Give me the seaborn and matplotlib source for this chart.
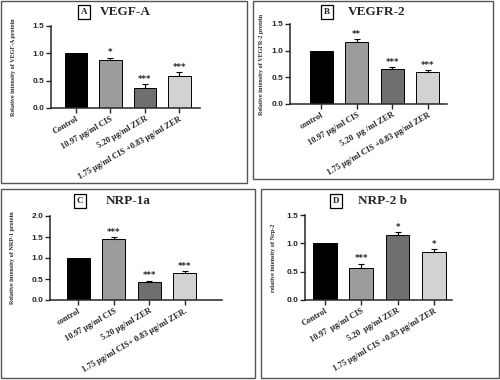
import numpy as np
import pandas as pd
import matplotlib
matplotlib.use('Agg')
import matplotlib.pyplot as plt
import seaborn as sns
from matplotlib.patches import Rectangle

# values
letters = ['A', 'B', 'C', 'D']
titles = ['VEGF-A', 'VEGFR-2', 'NRP-1a', 'NRP-2 b']
ylabels = ['Relative intensity of VEGF-A protein',
           'Relative intensity of VEGFR-2 protein',
           'Relative intensity of NRP-1 protein',
           'relative intensity of Nrp-2']
groups_a = ['Control', '10.97 µg/ml CIS', '5.20 µg/ml ZER', '1.75 µg/ml CIS +0.83 µg/ml ZER']
groups_b = ['control', '10.97 µg/ml CIS', '5.20  µg /ml ZER', '1.75 µg/ml CIS +0.83 µg/ml ZER']
groups_c = ['control', '10.97 µg/ml CIS', '5.20 µg/ml ZER', '1.75 µg/ml CIS+ 0.83 µg/ml ZER.']
groups_d = ['Control', '10.97  µg/ml CIS', '5.20  µg/ml ZER', '1.75 µg/ml CIS +0.83 µg/ml ZER']
vals_a = [1.0, 0.87, 0.37, 0.58]
vals_b = [1.0, 1.16, 0.65, 0.60]
vals_c = [1.0, 1.45, 0.43, 0.64]
vals_d = [1.0, 0.57, 1.14, 0.85]
err_a = [0.0, 0.05, 0.06, 0.08]
err_b = [0.0, 0.05, 0.04, 0.03]
err_c = [0.0, 0.04, 0.03, 0.05]
err_d = [0.0, 0.07, 0.06, 0.05]
stars_a = ['', '*', '***', '***']
stars_b = ['', '**', '***', '***']
stars_c = ['', '***', '***', '***']
stars_d = ['', '***', '*', '*']
ymax = [1.5, 1.5, 2.0, 1.5]
yticks = [[0, 0.5, 1.0, 1.5], [0, 0.5, 1.0, 1.5], [0, 0.5, 1.0, 1.5, 2.0], [0, 0.5, 1.0, 1.5]]

groups = [groups_a, groups_b, groups_c, groups_d]
vals = [vals_a, vals_b, vals_c, vals_d]
errs = [err_a, err_b, err_c, err_d]
stars = [stars_a, stars_b, stars_c, stars_d]

colors = ['#000000', '#9c9c9c', '#6f6f6f', '#d2d2d2']

sns.set_theme(style='ticks')
plt.rcParams['font.family'] = ['Liberation Serif', 'DejaVu Serif']

W, H = 500, 380
fig = plt.figure(figsize=(5, 3.8), dpi=100)

# pixel boxes: (left, top, right, bottom) for axes and panel frames
axes_px = [(51, 26, 200, 108), (290, 24, 447, 104), (50, 216, 222, 300), (305, 215, 452, 300)]
frames_px = [(1, 1, 247, 183), (253, 1, 493, 179), (1, 189, 255, 378), (261, 189, 499, 378)]
ylab_x = [16, 264, 15, 276]
box_px = [(84, 12), (327, 12), (80, 201), (336, 201)]
title_x = [100, 348, 106, 358]
xlims = [(-0.72, 3.6), (-0.88, 3.55), (-0.8, 4.05), (-0.55, 3.5)]

for fl, ft, fr, fb in frames_px:
    fig.patches.append(Rectangle((fl / W, 1 - fb / H), (fr - fl) / W, (fb - ft) / H,
                                 transform=fig.transFigure, fill=False,
                                 edgecolor='#555555', linewidth=1.0))

for i in range(4):
    l, t, r, b = axes_px[i]
    ax = fig.add_axes([l / W, 1 - b / H, (r - l) / W, (b - t) / H])
    df = pd.DataFrame({'group': groups[i], 'value': vals[i]})
    sns.barplot(data=df, x='group', y='value', hue='group', palette=colors,
                legend=False, edgecolor='black', linewidth=0.7, width=0.65, ax=ax)
    x = np.arange(1, 4)
    e = np.array(errs[i][1:])
    ax.errorbar(x, vals[i][1:], yerr=[np.zeros(3), e], fmt='none',
                ecolor='black', elinewidth=0.8, capsize=2.5, capthick=0.8)
    for j in range(1, 4):
        ax.text(j, vals[i][j] + errs[i][j] + 0.005, stars[i][j], ha='center',
                va='bottom', fontsize=6, fontweight='bold', family='DejaVu Sans')
    ax.set_ylim(0, ymax[i])
    ax.set_xlim(*xlims[i])
    ax.set_yticks(yticks[i])
    ax.set_yticklabels([f'{v:.1f}' for v in yticks[i]], fontsize=6,
                       fontweight='bold', family='Liberation Sans')
    ax.set_xticks(range(4))
    ax.set_xticklabels(groups[i], rotation=30, ha='right', rotation_mode='anchor',
                       fontsize=6, fontweight='bold')
    ax.set_xlabel('')
    ax.set_ylabel(ylabels[i], fontsize=4.4, fontweight='bold')
    ax.yaxis.set_label_coords(-(l - ylab_x[i]) / (r - l), 0.5)
    for s in ['left', 'bottom']:
        ax.spines[s].set_linewidth(1.1)
    sns.despine(ax=ax)
    ax.tick_params(axis='both', length=3.5, width=1.0, pad=1.5)

    bx, by = box_px[i]
    fig.text(bx / W, 1 - by / H, letters[i], ha='center', va='center', fontsize=6.5,
             fontweight='bold',
             bbox=dict(boxstyle='square,pad=0.3', facecolor='white', edgecolor='black', linewidth=0.9))
    fig.text(title_x[i] / W, 1 - by / H, titles[i], ha='left', va='center',
             fontsize=9.5, fontweight='bold')

fig.savefig('out.png', dpi=100)
